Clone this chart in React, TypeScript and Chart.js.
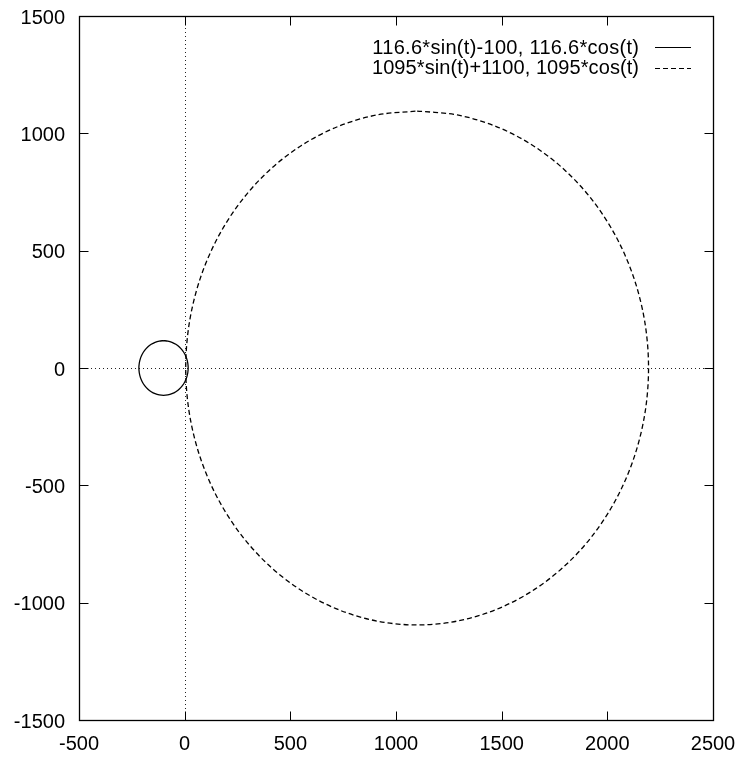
import React, { useEffect, useRef } from "react";
import { Chart, registerables } from "chart.js";

Chart.register(...registerables);

// Legend labels
const seriesLabels = ["116.6*sin(t)-100, 116.6*cos(t)", "1095*sin(t)+1100, 1095*cos(t)"];

// Axis tick values
const xTickValues = [-500, 0, 500, 1000, 1500, 2000, 2500];
const yTickValues = [-1500, -1000, -500, 0, 500, 1000, 1500];

// Curve 1 samples (t = 0..360 deg, every 10 deg)
const smallX = [-100, -79.8, -60.1, -41.7, -25.1, -10.7, 1.0, 9.6, 14.8, 16.6, 14.8, 9.6, 1.0, -10.7, -25.1, -41.7, -60.1, -79.8, -100, -120.2, -139.9, -158.3, -174.9, -189.3, -201.0, -209.6, -214.8, -216.6, -214.8, -209.6, -201.0, -189.3, -174.9, -158.3, -139.9, -120.2, -100];
const smallY = [116.6, 114.8, 109.6, 101.0, 89.3, 74.9, 58.3, 39.9, 20.2, 0, -20.2, -39.9, -58.3, -74.9, -89.3, -101.0, -109.6, -114.8, -116.6, -114.8, -109.6, -101.0, -89.3, -74.9, -58.3, -39.9, -20.2, 0, 20.2, 39.9, 58.3, 74.9, 89.3, 101.0, 109.6, 114.8, 116.6];

// Curve 2 samples (t = 0..360 deg, every 10 deg)
const bigX = [1100, 1290.1, 1474.5, 1647.5, 1803.9, 1938.8, 2048.3, 2129.0, 2178.4, 2195, 2178.4, 2129.0, 2048.3, 1938.8, 1803.9, 1647.5, 1474.5, 1290.1, 1100, 909.9, 725.5, 552.5, 396.1, 261.2, 151.7, 71.0, 21.6, 5, 21.6, 71.0, 151.7, 261.2, 396.1, 552.5, 725.5, 909.9, 1100];
const bigY = [1095, 1078.4, 1029.0, 948.3, 838.8, 703.9, 547.5, 374.5, 190.1, 0, -190.1, -374.5, -547.5, -703.9, -838.8, -948.3, -1029.0, -1078.4, -1095, -1078.4, -1029.0, -948.3, -838.8, -703.9, -547.5, -374.5, -190.1, 0, 190.1, 374.5, 547.5, 703.9, 838.8, 948.3, 1029.0, 1078.4, 1095];

const FONT = "'Liberation Sans', Arial, Helvetica, sans-serif";
const FONT_SIZE = 20;
const DASH = [5, 3];

const framePlugin = {
  id: "gnuplotFrame",
  beforeDatasetsDraw(chart: any) {
    const { ctx, chartArea, scales } = chart;
    const x0 = Math.round(scales.x.getPixelForValue(0)) + 0.5;
    const y0 = Math.round(scales.y.getPixelForValue(0)) + 0.5;
    ctx.save();
    ctx.strokeStyle = "#222";
    ctx.lineWidth = 1;
    ctx.setLineDash([1, 3]);
    ctx.beginPath();
    ctx.moveTo(x0, chartArea.top);
    ctx.lineTo(x0, chartArea.bottom);
    ctx.moveTo(chartArea.left, y0);
    ctx.lineTo(chartArea.right, y0);
    ctx.stroke();
    ctx.restore();
  },
  afterDraw(chart: any) {
    const { ctx, chartArea, scales } = chart;
    const L = Math.round(chartArea.left) + 0.5;
    const R = Math.round(chartArea.right) + 0.5;
    const T = Math.round(chartArea.top) + 0.5;
    const B = Math.round(chartArea.bottom) + 0.5;
    const tl = 9;
    ctx.save();
    ctx.strokeStyle = "#000";
    ctx.lineWidth = 1.3;
    ctx.setLineDash([]);
    ctx.strokeRect(L, T, R - L, B - T);
    ctx.lineWidth = 1;
    ctx.beginPath();
    xTickValues.forEach((v) => {
      const px = Math.round(scales.x.getPixelForValue(v)) + 0.5;
      ctx.moveTo(px, B);
      ctx.lineTo(px, B - tl);
      ctx.moveTo(px, T);
      ctx.lineTo(px, T + tl);
    });
    yTickValues.forEach((v) => {
      const py = Math.round(scales.y.getPixelForValue(v)) + 0.5;
      ctx.moveTo(L, py);
      ctx.lineTo(L + tl, py);
      ctx.moveTo(R, py);
      ctx.lineTo(R - tl, py);
    });
    ctx.stroke();

    // tick labels
    ctx.font = `${FONT_SIZE}px ${FONT}`;
    ctx.fillStyle = "#000";
    ctx.textBaseline = "alphabetic";
    ctx.textAlign = "right";
    yTickValues.forEach((v) => {
      const py = scales.y.getPixelForValue(v);
      ctx.fillText(String(v), L - 14.5, py + 7.5);
    });
    ctx.textAlign = "center";
    xTickValues.forEach((v) => {
      const px = scales.x.getPixelForValue(v);
      ctx.fillText(String(v), px, B + 29);
    });

    // legend
    const textRight = 639;
    const targetWidth = 267;
    const sampleL = 655;
    const sampleR = 691;
    const baselines = [53.5, 73.5];
    const sampleYs = [47, 67.5];
    ctx.textAlign = "right";
    seriesLabels.forEach((lab, i) => {
      (ctx as any).letterSpacing = "0px";
      const w = ctx.measureText(lab).width;
      const sp = (targetWidth - w) / lab.length;
      (ctx as any).letterSpacing = `${sp.toFixed(2)}px`;
      ctx.fillText(lab, textRight + sp, baselines[i]);
      (ctx as any).letterSpacing = "0px";
      ctx.beginPath();
      ctx.setLineDash(i === 0 ? [] : DASH);
      ctx.lineWidth = 1.1;
      ctx.moveTo(sampleL, Math.round(sampleYs[i]) + 0.5);
      ctx.lineTo(sampleR, Math.round(sampleYs[i]) + 0.5);
      ctx.stroke();
    });
    ctx.restore();
  },
};

export default function App() {
  const ref = useRef<HTMLCanvasElement | null>(null);

  useEffect(() => {
    document.body.style.margin = "0";
    if (!ref.current) return;
    const small = smallX.map((x, i) => ({ x, y: smallY[i] }));
    const big = bigX.map((x, i) => ({ x, y: bigY[i] }));
    const chart = new Chart(ref.current, {
      type: "scatter",
      data: {
        datasets: [
          {
            label: seriesLabels[0],
            data: small,
            showLine: true,
            borderColor: "#000",
            borderWidth: 1.3,
            pointRadius: 0,
            tension: 0.33,
            fill: false,
          },
          {
            label: seriesLabels[1],
            data: big,
            showLine: true,
            borderColor: "#000",
            borderWidth: 1.3,
            borderDash: DASH,
            pointRadius: 0,
            tension: 0.33,
            fill: false,
          },
        ],
      },
      options: {
        animation: false,
        responsive: false,
        layout: { padding: { top: 16, right: 27, left: 0, bottom: 0 } },
        plugins: { legend: { display: false }, tooltip: { enabled: false } },
        scales: {
          x: {
            type: "linear",
            min: -500,
            max: 2500,
            afterBuildTicks: (s: any) => {
              s.ticks = xTickValues.map((v) => ({ value: v }));
            },
            afterFit: (s: any) => {
              s.height = 39;
            },
            grid: { display: false, drawTicks: false },
            border: { display: false },
            ticks: { display: false },
          },
          y: {
            type: "linear",
            min: -1500,
            max: 1500,
            afterBuildTicks: (s: any) => {
              s.ticks = yTickValues.map((v) => ({ value: v }));
            },
            afterFit: (s: any) => {
              s.width = 79;
            },
            grid: { display: false, drawTicks: false },
            border: { display: false },
            ticks: { display: false },
          },
        },
      },
      plugins: [framePlugin],
    });
    return () => chart.destroy();
  }, []);

  return (
    <canvas
      ref={ref}
      width={740}
      height={759}
      style={{ position: "absolute", left: 0, top: 0, width: 740, height: 759 }}
    />
  );
}
